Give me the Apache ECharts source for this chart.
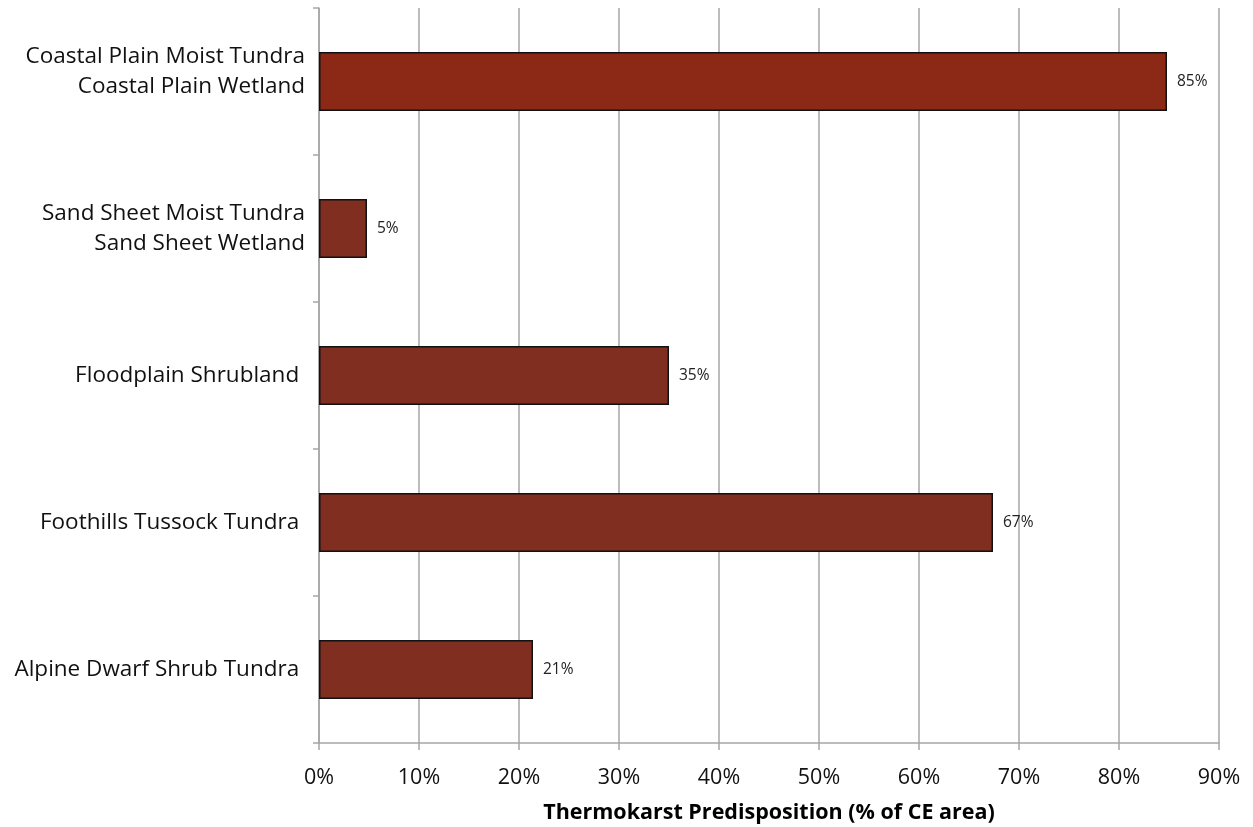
<!DOCTYPE html>
<html>
<head>
<meta charset="utf-8">
<script src="https://cdn.jsdelivr.net/npm/echarts@6/dist/echarts.min.js"></script>
<style>
html,body{margin:0;padding:0;background:#fff;}
#c{width:1253px;height:827px;}
</style>
</head>
<body>
<div id="c"></div>
<script>
const categories = [
  "Coastal Plain Moist Tundra\nCoastal Plain Wetland",
  "Sand Sheet Moist Tundra\nSand Sheet Wetland",
  "Floodplain Shrubland ",
  "Foothills Tussock Tundra ",
  "Alpine Dwarf Shrub Tundra "
];
const values = [84.8, 4.8, 35.0, 67.4, 21.4];
const barColors = ["#8B2916", "#7F2E20", "#7F2E20", "#7F2E20", "#7F2E20"];
const xTicks = [0, 10, 20, 30, 40, 50, 60, 70, 80, 90];
const axisTitle = "Thermokarst Predisposition (% of CE area)";

const chart = echarts.init(document.getElementById('c'));
const font = "'Open Sans', 'Noto Sans', sans-serif";
chart.setOption({
  animation: false,
  grid: {left: 319, right: 34, top: 8, bottom: 84, containLabel: false, outerBoundsMode: 'none'},
  xAxis: {
    type: 'value', min: xTicks[0], max: xTicks[xTicks.length - 1], interval: 10,
    axisLine: {show: true, lineStyle: {color: '#A6A6A6', width: 1.5}},
    axisTick: {show: true, length: 7, lineStyle: {color: '#A6A6A6', width: 1.5}},
    splitLine: {show: true, lineStyle: {color: '#A6A6A6', width: 1.5}},
    axisLabel: {formatter: v => v + '%', fontSize: 21.5, color: '#111', fontFamily: font, margin: 24},
    name: axisTitle, nameLocation: 'middle', nameGap: 59,
    nameTextStyle: {fontSize: 21.5, fontWeight: 'bold', color: '#000', fontFamily: font}
  },
  yAxis: {
    type: 'category',
    data: categories,
    inverse: true,
    axisLine: {show: true, lineStyle: {color: '#A6A6A6', width: 1.5}},
    axisTick: {show: true, length: 6, lineStyle: {color: '#A6A6A6', width: 1.5}},
    axisLabel: {
      fontSize: 22.5, color: '#111', fontFamily: font, margin: 14, align: 'right', lineHeight: 30,
      formatter: (v, i) => i === 0 ? v.split('\n').map(l => '{a|' + l + '}').join('\n') + '\n{s| }' : v,
      rich: {
        a: {fontSize: 22.5, color: '#111', fontFamily: font, lineHeight: 30, align: 'right'},
        s: {fontSize: 2, lineHeight: 19}
      }
    }
  },
  series: [{
    type: 'bar',
    data: values.map((v, i) => ({value: v, itemStyle: {color: barColors[i]}})),
    barWidth: 59,
    itemStyle: {borderColor: '#111', borderWidth: 1.5},
    label: {
      show: true, position: 'right', distance: 10,
      formatter: p => Math.round(p.value) + '%',
      fontSize: 15.5, color: '#222', fontFamily: font
    }
  }]
});
</script>
</body>
</html>
